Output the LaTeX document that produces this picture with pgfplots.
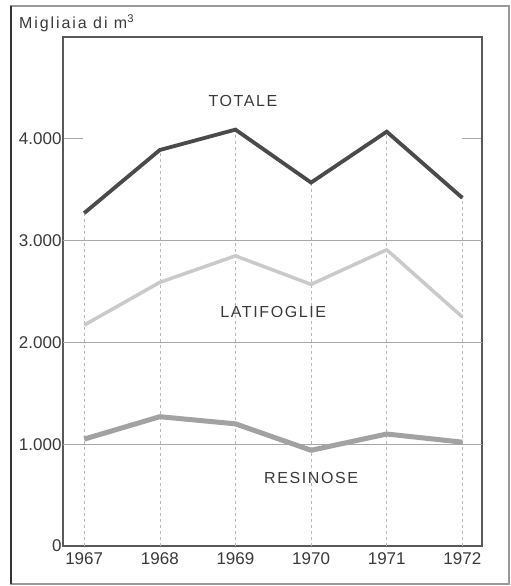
\documentclass[border=0pt]{standalone}
\usepackage{fontspec}
\setmainfont{Liberation Sans}
\usepackage{pgfplots}
\pgfplotsset{compat=1.18}
\definecolor{txt}{HTML}{3A3A3A}
\definecolor{tot}{HTML}{4A4A4A}
\definecolor{lat}{HTML}{CACACA}
\definecolor{res}{HTML}{A2A2A2}
\definecolor{grd}{HTML}{A8A8A8}
\begin{document}
\begin{tikzpicture}[x=1pt,y=1pt]
\useasboundingbox (0,0) rectangle (511,586);
\fill[white] (0,0) rectangle (511,586);
\draw[gray!80, line width=1.2pt] (11,2) rectangle (509,580);
\draw[black!80, line width=2pt] (11,2)--(11,580);
\node[anchor=west, text=txt, inner sep=0pt] at (19,563) {\fontsize{16}{18}\selectfont\addfontfeature{LetterSpace=12}Migliaia di m\textsuperscript{3}};
\begin{axis}[
  at={(63pt,40pt)}, anchor=south west,
  width=419pt, height=509pt, scale only axis,
  xmin=1966.72, xmax=1972.26, ymin=0, ymax=5000,
  axis line style={draw=black!65, line width=1.3pt},
  xtick={1967,1968,1969,1970,1971,1972},
  xticklabels={1967,1968,1969,1970,1971,1972},
  ytick={0,1000,2000,3000,4000},
  yticklabels={0,1.000,2.000,3.000,4.000},
  xtick style={draw=none},
  ytick style={draw=grd, line width=0.6pt},
  ytick pos=both,
  major tick length=20pt,
  extra y ticks={1000,2000,3000},
  extra y tick labels={},
  extra y tick style={grid=major, major grid style={draw=grd, line width=0.6pt}},
  tick label style={font=\fontsize{17}{19}\selectfont, text=txt},
  /pgf/number format/assume math mode=true,
  xticklabel style={yshift=-3pt},
  yticklabel style={xshift=2pt},
  clip=false,
]
\addplot[ycomb, draw=grd!80, dashed, line width=0.5pt, mark=none] coordinates {
(1967,3270) (1968,3890) (1969,4090) (1970,3570) (1971,4070) (1972,3420)};
\addplot[draw=res, line width=5pt, mark=none, line join=round] coordinates {
(1967,1050) (1968,1270) (1969,1200) (1970,940) (1971,1100) (1972,1020)};
\addplot[draw=lat, line width=3.5pt, mark=none, line join=round] coordinates {
(1967,2170) (1968,2590) (1969,2850) (1970,2570) (1971,2910) (1972,2250)};
\addplot[draw=tot, line width=3.8pt, mark=none, line join=miter] coordinates {
(1967,3270) (1968,3890) (1969,4090) (1970,3570) (1971,4070) (1972,3420)};
\node[text=txt, font=\fontsize{16}{18}\selectfont\addfontfeature{LetterSpace=10}] at (axis cs:1969.1,4370) {TOTALE};
\node[text=txt, font=\fontsize{16}{18}\selectfont\addfontfeature{LetterSpace=10}] at (axis cs:1969.5,2300) {LATIFOGLIE};
\node[text=txt, font=\fontsize{16}{18}\selectfont\addfontfeature{LetterSpace=10}] at (axis cs:1970,670) {RESINOSE};
\end{axis}
\end{tikzpicture}
\end{document}
